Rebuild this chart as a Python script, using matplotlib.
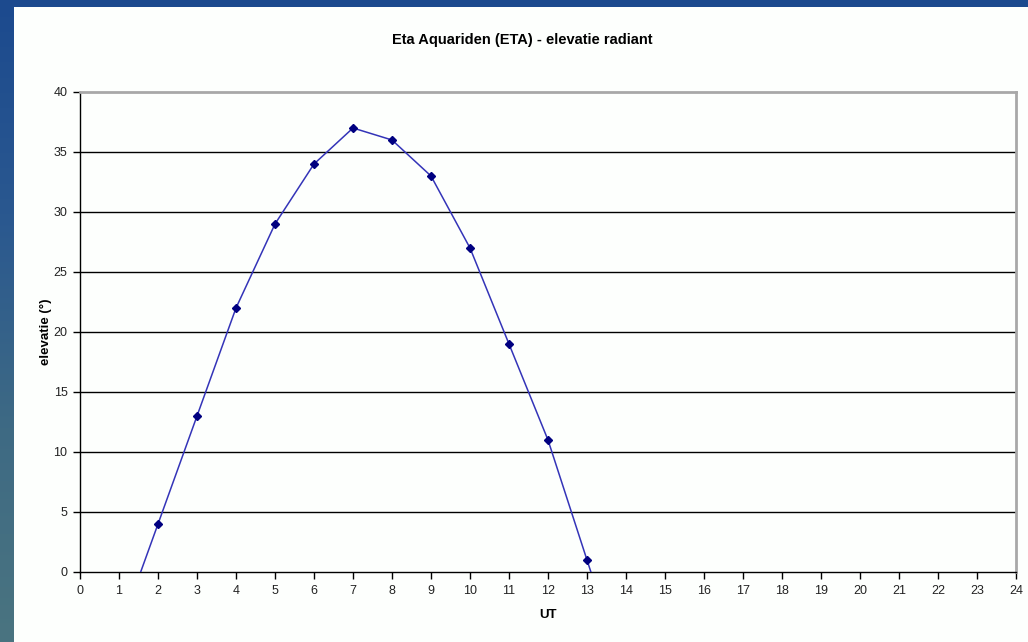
import numpy as np
import matplotlib
matplotlib.use("Agg")
import matplotlib.pyplot as plt
from matplotlib.patches import Rectangle

plt.rcParams['font.family'] = ['Liberation Sans', 'DejaVu Sans']

# Hourly radiant elevation (degrees) for the Eta Aquariids
hours = [1, 2, 3, 4, 5, 6, 7, 8, 9, 10, 11, 12, 13, 14]
elevation = [-5, 4, 13, 22, 29, 34, 37, 36, 33, 27, 19, 11, 1, -9]
x_ticks = list(range(0, 25))
y_ticks = list(range(0, 41, 5))

title = "Eta Aquariden (ETA) - elevatie radiant"
x_label = "UT"
y_label = "elevatie (°)"

fig = plt.figure(figsize=(10.28, 6.42), dpi=100)

# blue slide backdrop with a white chart panel on top
bg = fig.add_axes([0, 0, 1, 1], zorder=-2)
grad = np.linspace(0, 1, 256).reshape(-1, 1)
cmap = matplotlib.colors.LinearSegmentedColormap.from_list(
    "slide", ["#1c4a8e", "#2a5890", "#3e6a84", "#4a7480"])
bg.imshow(grad, aspect="auto", cmap=cmap, extent=[0, 1, 0, 1], origin="upper")
bg.add_patch(Rectangle((14 / 1028, 0), 1, 1 - 7 / 642, facecolor="#fdfffd",
                       edgecolor="none", transform=bg.transAxes))
bg.set_xlim(0, 1)
bg.set_ylim(0, 1)
bg.axis("off")

ax = fig.add_axes([80 / 1028, 1 - 572 / 642, (1016 - 80) / 1028, (572 - 92) / 642])
ax.set_facecolor("#fdfffd")

ax.plot(hours, elevation, color="#3434b8", lw=1.1, zorder=3,
        marker="D", markersize=4.2, markerfacecolor="#000080",
        markeredgecolor="#000080")

ax.set_xlim(0, 24)
ax.set_ylim(0, 40)
ax.set_xticks(x_ticks)
ax.set_yticks(y_ticks)
ax.tick_params(axis="both", direction="out", length=5, width=1, color="black",
               labelsize=9, labelcolor="#222222", pad=4)

for y in y_ticks[1:-1]:
    ax.axhline(y, color="black", lw=1.0, zorder=1)

for side in ("top", "right"):
    ax.spines[side].set_color("#a8a8a8")
    ax.spines[side].set_linewidth(2)
for side in ("left", "bottom"):
    ax.spines[side].set_color("black")
    ax.spines[side].set_linewidth(1)

fig.text(522 / 1028, 1 - 40 / 642, title, ha="center", va="center",
         fontsize=10.5, fontweight="bold", color="black")
ax.set_xlabel(x_label, fontsize=9.5, fontweight="bold", labelpad=9)
ax.set_ylabel(y_label, fontsize=9.5, fontweight="bold", labelpad=1)

fig.savefig("out.png", dpi=100)
